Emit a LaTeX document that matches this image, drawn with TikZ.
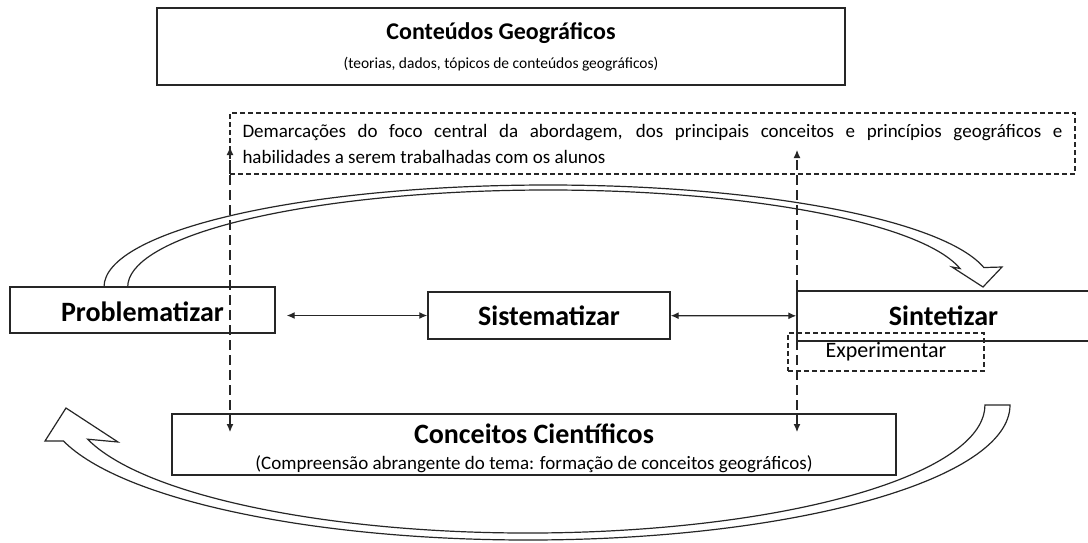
\documentclass[tikz,border=0pt]{standalone}
\usepackage{fontspec}
\setmainfont{Carlito}
\usetikzlibrary{arrows.meta}
\newcommand{\hdfont}{\fontsize{28}{32}\selectfont\bfseries}
\newcommand{\txfont}{\fontsize{19}{26}\selectfont}

\begin{document}
\begin{tikzpicture}[x=1pt, y=-1pt, line width=1.4pt, draw=black!85,
    box/.style = {draw, rectangle, inner sep=0pt, font=\hdfont},
    box2/.style = {draw, rectangle, inner sep=0pt, align=center},
    dbox/.style = {draw, rectangle, inner sep=0pt, dash pattern=on 5pt off 3pt},
    link/.style = {line width=1.3pt, {Latex[length=8pt,width=7pt]}-{Latex[length=8pt,width=7pt]}},
    dlink/.style = {link, line width=1.1pt, dash pattern=on 10pt off 5pt},
    bigarrow/.style = {draw, fill=white, line width=1.2pt}]
    \useasboundingbox (0,0) rectangle (1088,542);

    \draw[bigarrow] (104,287) arc[start angle=180, end angle=349, x radius=444, y radius=102]
        -- (1002,267) -- (983,287) -- (952,267) -- (960,268.5)
        arc[start angle=349, end angle=180, x radius=420, y radius=97] -- cycle;
    \draw[bigarrow] (1010,405) arc[start angle=0, end angle=164.5, x radius=482, y radius=135]
        -- (45,441) -- (66,408) -- (118,442) -- (87.6,439.2)
        arc[start angle=164.5, end angle=0, x radius=457, y radius=128] -- cycle;

    \node[box2, minimum width=688pt, minimum height=77pt, font=\fontsize{15.5}{29}\selectfont] (conteudos) at (501,46.5)
        {{\fontsize{24}{28}\selectfont\bfseries Conteúdos Geográficos}\\(teorias, dados, tópicos de conteúdos geográficos)};
    \node[dbox, minimum width=845pt, minimum height=61pt, text width=820pt, align=justify, font=\txfont] (marcos) at (652.5,143.5)
        {Demarcações do foco central da abordagem, dos principais conceitos e princípios geográficos e\linebreak habilidades a serem trabalhadas com os alunos};
    \node[box, minimum width=265pt, minimum height=46pt] (prob) at (142.5,310) {\rule{0pt}{24pt}Problematizar};
    \node[box, minimum width=242pt, minimum height=47pt] (sist) at (549,315.5) {Sistematizar};
    \node[box, minimum width=293pt, minimum height=50pt] (sint) at (943.5,316) {Sintetizar};
    \node[dbox, minimum width=196pt, minimum height=38pt, font=\fontsize{22}{24}\selectfont] (exp) at (886,352) {Experimentar};
    \node[box2, minimum width=724pt, minimum height=61pt, font=\txfont] (conceitos) at (534,444.5)
        {{\hdfont\rule{0pt}{28pt}Conceitos Científicos}\\(Compreensão abrangente do tema: formação de conceitos geográficos)};

    \coordinate (lsup) at (230,147);
    \coordinate (linf) at (230,432);
    \coordinate (rsup) at (797,150);
    \coordinate (rinf) at (797,432);

    \draw[link, shorten <=11pt] (prob.east |- sist.west) -- (sist.west);
    \draw[link] (sist) -- (sint);
    \draw[dlink] (linf) -- (lsup);
    \draw[dlink] (rinf) -- (rsup);
\end{tikzpicture}
\end{document}
